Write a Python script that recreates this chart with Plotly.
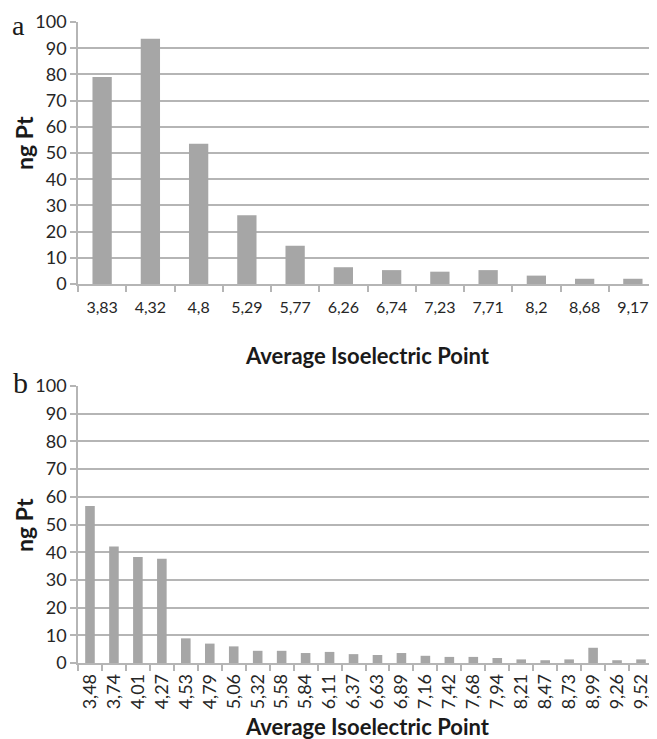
import plotly.graph_objects as go

cats_a = ["3,83", "4,32", "4,8", "5,29", "5,77", "6,26", "6,74", "7,23", "7,71", "8,2", "8,68", "9,17"]
vals_a = [79, 93.6, 53.5, 26.2, 14.6, 6.4, 5.3, 4.7, 5.3, 3.2, 2.0, 2.0]

cats_b = ["3,48", "3,74", "4,01", "4,27", "4,53", "4,79", "5,06", "5,32", "5,58", "5,84", "6,11", "6,37",
          "6,63", "6,89", "7,16", "7,42", "7,68", "7,94", "8,21", "8,47", "8,73", "8,99", "9,26", "9,52"]
vals_b = [56.7, 42.1, 38.3, 37.6, 8.9, 7.0, 6.0, 4.4, 4.4, 3.6, 4.0, 3.2,
          2.9, 3.6, 2.6, 2.2, 2.2, 1.8, 1.3, 1.0, 1.3, 5.5, 1.0, 1.3]

y_ticks = [0, 10, 20, 30, 40, 50, 60, 70, 80, 90, 100]

BAR = "#a6a6a6"
GRID = "#b5b5b5"
FONT = "Lato"
OFF = 8  # default page body margin
W, H = 657 - OFF, 739 - OFF
ML, MR = 78 - OFF, 0
MT = 22 - OFF
MB = H - (663 - OFF)
PH = H - MT - MB
PW = W - ML - MR

def py(pix):
    return (H - MB - (pix - OFF)) / PH

def px(pix):
    return (pix - OFF - ML) / PW

fig = go.Figure()
fig.add_trace(go.Bar(x=cats_a, y=vals_a, marker_color=BAR, marker_line_width=0,
                     xaxis="x", yaxis="y", showlegend=False))
fig.add_trace(go.Bar(x=cats_b, y=vals_b, marker_color=BAR, marker_line_width=0,
                     xaxis="x2", yaxis="y2", showlegend=False))

common_y = dict(range=[0, 100], tickvals=y_ticks, showgrid=True, gridcolor=GRID, gridwidth=1.5,
                showline=True, linecolor=GRID, linewidth=1.5, ticks="outside", ticklen=6,
                tickcolor=GRID, tickwidth=1.5, tickfont=dict(family=FONT, size=18, color="#262626"),
                zeroline=False, fixedrange=True)
common_x = dict(type="category", showline=True, linecolor=GRID, linewidth=1.5, ticks="outside",
                tickson="boundaries", ticklen=6, tickcolor=GRID, tickwidth=1.5, showgrid=False,
                fixedrange=True)

fig.update_layout(
    width=W, height=H,
    margin=dict(l=ML, r=MR, t=MT, b=MB),
    paper_bgcolor="white", plot_bgcolor="white",
    bargap=0.6,
    xaxis=dict(domain=[0, 1], anchor="y",
               tickfont=dict(family=FONT, size=16, color="#262626"), tickangle=0,
               ticklabelstandoff=8, **common_x),
    yaxis=dict(domain=[py(284), 1], anchor="x", **common_y),
    xaxis2=dict(domain=[0, px(653)], anchor="y2",
                tickfont=dict(family=FONT, size=18, color="#262626"), tickangle=-90,
                ticklabelstandoff=2, **common_x),
    yaxis2=dict(domain=[0, py(386)], anchor="x2", **common_y),
)

ann_font = dict(family=FONT, size=22, color="#1a1a1a")
fig.add_annotation(text="<b>Average Isoelectric Point</b>", xref="paper", yref="paper",
                   x=px(367), y=py(355), showarrow=False, font=ann_font,
                   xanchor="center", yanchor="middle")
fig.add_annotation(text="<b>Average Isoelectric Point</b>", xref="paper", yref="paper",
                   x=px(367), y=py(726), showarrow=False, font=ann_font,
                   xanchor="center", yanchor="middle")
ylab_font = dict(family=FONT, size=23, color="#1a1a1a")
fig.add_annotation(text="<b>ng Pt</b>", xref="paper", yref="paper", textangle=-90,
                   x=px(24), y=py(143), showarrow=False, font=ylab_font,
                   xanchor="center", yanchor="middle")
fig.add_annotation(text="<b>ng Pt</b>", xref="paper", yref="paper", textangle=-90,
                   x=px(24), y=py(525), showarrow=False, font=ylab_font,
                   xanchor="center", yanchor="middle")
fig.add_annotation(text="a", xref="paper", yref="paper",
                   x=px(18), y=py(OFF), showarrow=False,
                   font=dict(family="Liberation Serif", size=28, color="#1a1a1a"),
                   xanchor="center", yanchor="top")
fig.add_annotation(text="b", xref="paper", yref="paper",
                   x=px(20), y=py(383), showarrow=False,
                   font=dict(family="Liberation Serif", size=30, color="#1a1a1a"),
                   xanchor="center", yanchor="middle")

fig.write_html("out.html")
